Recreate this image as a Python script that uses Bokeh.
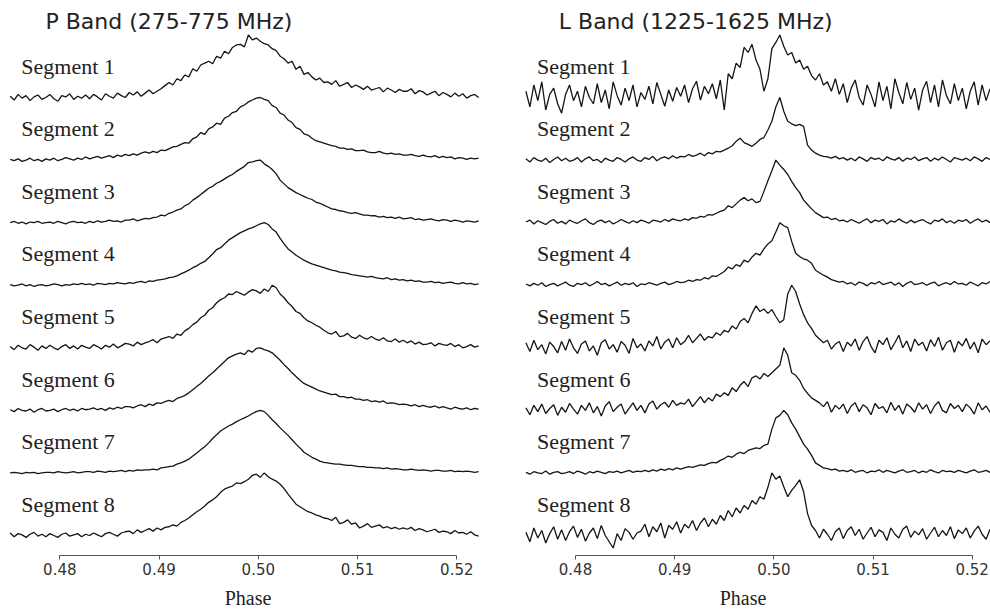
import numpy as np
from bokeh.plotting import figure
from bokeh.layouts import row
from bokeh.models import FixedTicker, Label, NumeralTickFormatter
from bokeh.embed import file_html
from bokeh.resources import INLINE

# pulse phase bins (shared by every profile)
phase = np.round(0.4750 + 0.0004 * np.arange(119), 4)

# P band (275-775 MHz) profiles, percent of peak
p_seg1 = [2,-4,5,-1,3,-5,1,4,-3,0, 5,-2,-6,3,1,6,-3,2,-1,4, -2,5,1,-4,6,2,-1,7,3,0,
          8,4,9,2,7,12,6,10,14,19, 24,20,30,27,36,33,46,42,52,55, 58,54,66,63,74,70,80,84,85,81,
          100,92,95,90,86,84,78,75,66,62, 55,58,45,50,37,40,33,28,31,24, 25,21,27,18,21,24,16,20,17,13,
          18,12,14,16,9,15,12,8,13,10, 10,14,6,11,9,4,7,10,3,8, 5,1,7,2,6,-1,3,5,0]
p_seg2 = [1,-1,2,-2,0,3,-1,1,-2,2, 0,3,-1,1,4,2,0,3,1,5, 2,4,6,3,5,7,4,8,6,9,
          7,10,8,11,13,11,14,12,16,15, 18,21,22,25,28,27,34,37,44,41, 50,53,59,57,67,70,76,78,85,88,
          93,96,99,100,97,95,87,84,75,72, 64,60,52,49,42,40,35,31,29,27, 25,23,22,19,19,17,18,15,15,16,
          13,12,12,14,11,10,11,9,10,8, 8,9,7,6,8,6,5,7,4,6, 4,5,2,4,3,1,3,2,3]
p_seg3 = [0,2,-1,1,-2,1,0,2,-1,0, 1,-1,2,0,-2,1,2,0,1,-1, 2,0,3,1,2,4,2,3,1,4,
          4,6,3,5,7,6,8,9,12,11, 15,17,20,22,27,30,36,40,45,50, 55,58,63,66,70,74,77,82,86,90,
          96,97,99,100,94,90,85,78,68,62, 56,52,48,45,42,39,37,33,31,28, 25,22,21,19,18,16,15,16,14,12,
          12,11,11,9,10,8,9,7,9,6, 7,8,5,6,4,5,6,4,3,5, 4,2,4,3,1,3,2,1,3]
p_seg4 = [1,-1,0,2,-1,1,-2,0,1,-1, 0,2,1,-1,1,0,2,1,3,1, 2,0,3,2,1,3,2,4,3,2,
          4,3,5,6,4,7,6,8,9,10, 12,13,15,18,21,24,28,31,35,38, 44,50,57,60,66,72,76,80,84,87,
          90,92,95,98,100,97,90,85,75,66, 58,53,48,44,40,37,34,32,30,28, 26,24,23,21,20,19,17,16,15,14,
          13,14,12,11,10,12,9,10,8,9, 7,8,6,7,5,5,6,4,5,3, 4,5,3,2,4,2,3,1,2]
p_seg5 = [2,-3,4,0,-2,5,1,-4,3,-1, 4,0,-3,2,5,-1,3,-2,4,1, -1,5,2,-2,4,1,6,0,3,7,
          6,3,9,5,8,10,13,8,14,16, 18,15,22,20,27,31,37,41,48,52, 60,64,72,77,80,86,85,90,87,84,
          89,93,91,87,94,90,100,96,86,80, 72,66,58,55,48,43,40,36,33,28, 24,22,26,18,19,23,17,15,20,16,
          14,18,14,12,16,11,10,14,9,12, 8,11,6,9,5,6,8,3,7,5, 4,7,2,5,0,2,5,1,3]
p_seg6 = [1,-2,3,0,-1,2,-3,1,3,-1, 0,2,-2,1,3,0,2,-1,3,1, 2,4,1,3,0,4,2,5,3,6,
          6,4,7,9,6,10,8,12,11,14, 16,14,19,21,24,28,33,38,43,49, 55,60,66,72,78,84,87,90,92,89,
          96,93,99,100,97,95,92,86,80,73, 67,60,54,48,43,40,37,34,31,29, 27,25,26,22,22,20,21,18,18,16,
          17,14,15,13,15,11,12,11,9,10, 9,7,9,6,8,6,5,7,4,6, 4,2,5,3,2,4,1,3,2]
p_seg7 = [0,1,0,-1,1,0,1,-1,0,1, 1,0,2,1,0,1,2,0,1,2, 2,1,3,2,1,3,2,3,4,2,
          4,3,5,4,5,5,6,5,8,9, 10,11,14,16,19,22,27,32,37,42, 48,55,61,67,71,75,78,82,85,88,
          91,95,98,100,98,92,85,79,72,66, 60,53,46,40,33,29,25,22,19,17, 16,15,14,14,13,12,12,11,10,10,
          9,9,8,8,7,8,6,7,6,5, 5,6,5,4,5,4,3,4,4,3, 3,4,2,3,2,3,2,1,2]
p_seg8 = [4,-2,3,1,-3,2,5,-1,2,-2, 3,0,-3,2,4,-1,1,3,-2,2, 0,4,1,-2,3,5,2,-1,4,6,
          7,3,9,5,8,11,7,12,9,13, 14,17,15,21,24,28,33,38,42,47, 53,57,62,69,74,77,79,84,83,86,
          90,96,98,93,100,94,90,87,82,75, 66,58,50,46,42,38,36,33,31,28, 27,24,29,19,21,25,18,20,12,15,
          19,13,15,17,12,14,11,13,10,12, 10,13,8,11,9,6,8,10,5,7, 6,3,8,4,5,2,6,1,-1]

# L band (1225-1625 MHz) profiles, percent of peak
l_seg1 = [10,-15,20,-5,25,-20,5,15,-10,-25, 5,20,-5,10,-15,18,0,-10,22,-8, 12,-18,25,3,-12,15,-5,20,-15,8,
          -3,18,-10,24,5,-14,12,-6,16,2, 20,-8,14,26,-4,18,6,22,-2,28, -20,38,30,55,48,80,72,85,60,45,
          10,30,78,88,100,82,68,72,55,60, 45,50,35,28,38,20,25,10,30,5, 22,-8,15,28,0,-12,20,5,-15,25,
          -5,18,-18,30,8,-10,24,-3,15,-20, 12,26,-8,20,-15,28,3,-10,22,-5, 15,-18,10,25,-12,20,-5,14,-8]
l_seg2 = [2,-3,4,0,-2,3,-4,1,5,-1, 3,-2,0,4,-3,2,5,-1,1,-4, 3,0,-2,4,1,-3,2,5,0,-2,
          4,1,6,-1,3,5,2,7,3,6, 5,9,6,8,11,7,12,10,14,13, 16,19,23,30,35,28,25,22,27,33,
          36,48,62,85,100,78,62,58,55,57, 54,24,16,11,8,6,5,3,6,2, 4,0,3,-1,5,2,-2,4,1,3,
          -1,5,2,0,4,-2,3,1,5,-1, 2,4,-2,3,0,5,1,-3,4,2, 0,3,-1,5,2,-2,4,1,3]
l_seg3 = [1,4,-2,3,0,-3,2,5,-1,2, -2,4,1,-1,3,6,0,-3,2,4, 0,3,-2,1,5,2,-1,3,0,4,
          2,-1,4,3,1,5,2,6,4,3, 6,4,8,7,10,9,13,12,15,18, 20,27,24,30,36,40,35,38,32,34,
          50,67,83,100,92,85,77,66,56,48, 36,29,22,16,12,8,9,5,7,3, 4,1,5,2,-1,3,6,0,4,2,
          5,-2,3,1,6,2,-1,4,0,3, 5,1,-2,4,2,6,0,3,-1,4, 2,5,-1,3,6,1,4,0,2]
l_seg4 = [2,-1,3,0,4,-2,1,3,-1,2, 5,0,-2,3,1,4,-1,2,6,1, 3,-1,2,5,0,3,1,4,-2,2,
          1,4,2,0,3,5,1,3,6,4, 5,8,6,9,8,12,10,15,14,18, 22,29,26,33,30,40,37,45,51,48,
          58,66,71,85,100,95,92,70,51,46, 42,40,35,24,20,16,13,9,7,5, 6,2,4,0,5,3,-1,4,2,6,
          1,3,5,0,4,-2,3,6,1,2, 4,0,3,5,-1,2,4,1,6,2, 3,0,5,2,-1,4,2,6,1]
l_seg5 = [8,-6,12,-3,5,-10,9,2,-8,10, -4,14,0,-9,6,11,-5,3,-12,8, 13,-2,5,-7,10,4,-9,15,0,6,
          -5,11,3,18,-2,9,14,0,16,5, 10,20,8,15,22,12,18,16,24,20, 28,25,35,30,42,47,40,55,67,58,
          62,55,61,50,40,45,86,100,90,70, 53,40,31,20,14,8,12,-2,6,10, -6,9,3,14,-4,10,18,2,-8,12,
          5,16,-3,8,20,0,11,-6,14,4, 9,-5,13,2,17,-4,8,12,-7,10, 3,15,-2,9,-8,14,5,11,-3]
l_seg6 = [4,-7,8,-2,10,-5,3,9,-8,5, -3,11,2,-6,8,0,12,-4,6,-9, 7,14,-2,5,10,-6,3,12,0,8,
          -4,10,15,2,9,13,5,16,8,12, 10,18,6,14,22,12,20,15,26,22, 28,24,36,30,40,46,38,52,55,50,
          59,54,60,66,72,100,88,60,56,48, 35,27,20,16,12,6,14,-3,8,2, 10,-5,7,12,-2,9,4,-7,11,3,
          6,-4,13,0,8,-6,10,5,-3,12, 2,9,-5,7,14,0,-4,11,3,8, -2,10,4,-6,12,1,7,-3,9]
l_seg7 = [1,-2,2,0,-1,3,-2,1,2,-1, 0,2,-1,3,1,-2,2,0,3,1, -1,2,1,3,0,2,4,1,3,2,
          4,2,5,3,6,4,7,5,8,6, 8,10,9,11,13,12,15,17,16,20, 23,27,25,30,33,31,36,38,40,39,
          44,46,70,88,92,100,93,80,70,58, 46,38,28,16,12,8,7,5,6,3, 4,2,5,1,3,4,0,3,2,5,
          1,4,2,0,3,5,1,2,4,0, 3,1,5,2,0,4,2,3,1,4, 2,0,3,5,1,2,4,1,3]
l_seg8 = [5,-10,12,-4,8,-12,3,14,-6,9, -8,6,15,-3,10,-9,4,12,-5,16, 0,-10,-20,3,-8,11,5,-6,4,7,
          18,-2,14,6,20,-4,16,10,22,4, 18,12,24,8,20,28,14,26,18,32, 24,40,30,44,36,48,42,56,50,62,
          58,77,100,90,95,78,62,72,80,89, 70,35,16,8,-4,10,2,-8,6,12, -5,8,14,0,10,-6,4,13,-2,9,
          5,-8,12,2,-4,10,15,-3,7,1, 11,-6,4,13,-2,8,0,14,-5,9, 3,12,-4,7,15,2,-6,10,4]

p_segments = [p_seg1, p_seg2, p_seg3, p_seg4, p_seg5, p_seg6, p_seg7, p_seg8]
l_segments = [l_seg1, l_seg2, l_seg3, l_seg4, l_seg5, l_seg6, l_seg7, l_seg8]
segment_names = ["Segment %d" % k for k in range(1, 9)]
tick_values = [0.48, 0.49, 0.50, 0.51, 0.52]
titles = ["P Band (275-775 MHz)", "L Band (1225-1625 MHz)"]

Y0, Y1 = -0.3196, 8.5505
FRAME_W, FRAME_H = 495, 555


def make_panel(segs, title, xr, title_x):
    p = figure(frame_width=FRAME_W, frame_height=FRAME_H, x_range=xr, y_range=(Y0, Y1),
               output_backend="svg", toolbar_location=None, y_axis_location=None,
               min_border_left=0, min_border_right=0, min_border_top=0, min_border_bottom=56)
    p.grid.visible = False
    p.outline_line_color = None
    p.background_fill_color = "white"
    for k, vals in enumerate(segs, start=1):
        base = 8 - k
        n = min(len(vals), len(phase))
        y = base + np.array(vals[:n], dtype=float) / 100.0
        p.line(phase[:n], y, line_color="#151515", line_width=1.3)
        p.add_layout(Label(x=0.47612, y=base + 0.50, text=segment_names[k - 1],
                           text_font="Liberation Serif", text_font_size="22px",
                           text_color="#222222", text_baseline="alphabetic"))
    p.add_layout(Label(x=title_x, y=8.22, text=title, text_font="DejaVu Sans",
                       text_font_size="22px", text_color="#222222", text_baseline="alphabetic"))
    ax = p.xaxis[0]
    ax.ticker = FixedTicker(ticks=tick_values)
    ax.formatter = NumeralTickFormatter(format="0.00")
    ax.bounds = (0.48, 0.52)
    ax.minor_tick_line_color = None
    ax.major_tick_out = 4
    ax.major_tick_in = 0
    ax.axis_line_color = "#555555"
    ax.major_tick_line_color = "#555555"
    ax.major_label_standoff = 3
    ax.major_label_text_font = "DejaVu Sans"
    ax.major_label_text_font_size = "15px"
    ax.major_label_text_color = "#333333"
    ax.axis_label = "Phase"
    ax.axis_label_standoff = 9
    ax.axis_label_text_font = "Liberation Serif"
    ax.axis_label_text_font_style = "normal"
    ax.axis_label_text_font_size = "20px"
    ax.axis_label_text_color = "#222222"
    return p


left = make_panel(p_segments, titles[0], (0.474025, 0.523899), 0.478559)
right = make_panel(l_segments, titles[1], (0.471934, 0.521844), 0.478316)

layout = row(left, right, spacing=0)
open("out.html", "w").write(file_html(layout, INLINE))
